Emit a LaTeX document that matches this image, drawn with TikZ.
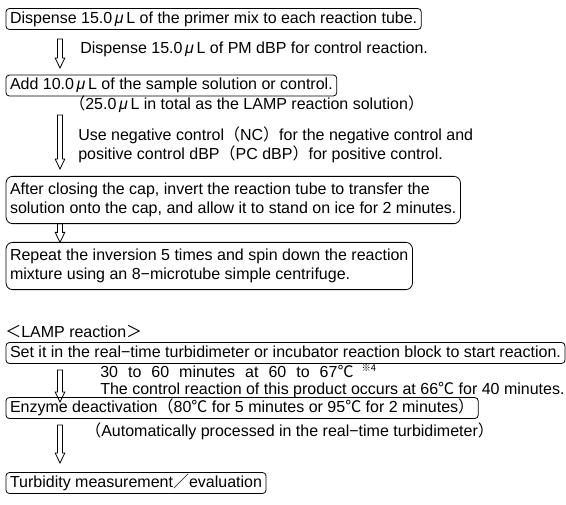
\documentclass[tikz,border=0pt]{standalone}
\usepackage{fontspec}
\setmainfont{Liberation Sans}
\newfontfamily\cjk{Noto Sans CJK JP}
\usepackage{tikz}
\usetikzlibrary{calc}

\newcommand{\muL}{\,\textit{μ}\,L}
\newcommand{\lpar}{{\cjk （}}
\newcommand{\rpar}{{\cjk ）}}
\newcommand{\degc}{{\cjk ℃}}
\newcommand{\dash}{−}

\tikzset{
  stepbox/.style={draw, line width=0.6pt, rounded corners=2.5pt, anchor=west, outer sep=0pt,
    inner xsep=3pt, inner ysep=2pt, text height=9pt, text depth=2.7pt,
    font=\fontsize{12}{14.25}\selectfont},
  twobox/.style={draw, line width=0.6pt, rounded corners=5pt, anchor=west, outer sep=0pt,
    inner xsep=3pt, inner ysep=5pt, align=left,
    font=\fontsize{12}{14.25}\selectfont},
  note/.style={anchor=west, inner sep=0pt, align=left, font=\fontsize{12}{14.25}\selectfont},
  hollow/.style={draw, line width=0.6pt,
    to path={($(\tikztostart)+(-2.5,0)$) -- ($(\tikztotarget)+(-2.5,-10)$)
      -- ($(\tikztotarget)+(-4.8,-10)$) -- (\tikztotarget) -- ($(\tikztotarget)+(4.8,-10)$)
      -- ($(\tikztotarget)+(2.5,-10)$) -- ($(\tikztostart)+(2.5,0)$) -- cycle}}
}

\begin{document}
\begin{tikzpicture}[x=0.75pt,y=0.75pt,yscale=-1,xscale=1]
\useasboundingbox (0,0) rectangle (566,504);

%Shape: Rounded Rect [id:box1]
\node[stepbox] (dispense) at (6,19) {Dispense 15.0\muL\ of the primer mix to each reaction tube.};
% Text Node
\node[note] (pmnote) at (80,49) {Dispense 15.0\muL\ of PM dBP for control reaction.};
%Shape: Rounded Rect [id:box2]
\node[stepbox] (addsample) at (6,85.5) {Add 10.0\muL\ of the sample solution or control.};
% Text Node
\node[note] (totalnote) at (69,104) {\lpar 25.0\muL\ in total as the LAMP reaction solution\rpar};
% Text Node
\node[note] (ctrlnote) at (78,144.5) {Use negative control\lpar NC\rpar for the negative control and\\
  positive control dBP\lpar PC dBP\rpar for positive control.};
%Shape: Rounded Rect [id:box3]
\node[twobox] (invert) at (6,200) {After closing the cap, invert the reaction tube to transfer the\\
  solution onto the cap, and allow it to stand on ice for 2 minutes.};
%Shape: Rounded Rect [id:box4]
\node[twobox] (spin) at (6,266) {Repeat the inversion 5 times and spin down the reaction\\
  mixture using an 8\dash microtube simple centrifuge.};

% Text Node
\node[note] (lamp) at (5,331) {{\cjk ＜}LAMP reaction{\cjk ＞}};
%Shape: Rounded Rect [id:box5]
\node[stepbox] (setblock) at (6,353) {Set it in the real\dash time turbidimeter or incubator reaction block to start reaction.};
% Text Node
\node[note] (timenote) at (100,371) {{\spaceskip=7.5pt 30 to 60 minutes at 60 to 67\degc}\hspace{6pt}\raisebox{5pt}{\fontsize{7}{8}\selectfont\cjk ※4}};
% Text Node
\node[note] (ctrlreact) at (100,390) {The control reaction of this product occurs at 66\degc\ for 40 minutes.};
%Shape: Rounded Rect [id:box6]
\node[stepbox] (deact) at (6,408) {Enzyme deactivation\lpar 80\degc\ for 5 minutes or 95\degc\ for 2 minutes\rpar};
% Text Node
\node[note] (autonote) at (85,431) {\lpar Automatically processed in the real\dash time turbidimeter\rpar};
%Shape: Rounded Rect [id:box7]
\node[stepbox] (measure) at (6,483) {Turbidity measurement{\cjk ／}evaluation};

%Hollow Arrows
\coordinate (ax) at (60,0);
\coordinate (a1t) at (60,39);
\coordinate (a1b) at (60,68);
\coordinate (a2t) at (60,115);
\coordinate (a2b) at (60,169);
\coordinate (a3t) at (invert.south -| ax);
\coordinate (a3b) at (spin.north -| ax);
\coordinate (a4t) at (60,370);
\coordinate (a4b) at (60,402);
\coordinate (a5t) at (60,425);
\coordinate (a5b) at (60,463);
\draw[hollow] (a1t) to (a1b);
\draw[hollow] (a2t) to (a2b);
\draw[hollow] (a3t) to (a3b);
\draw[hollow] (a4t) to (a4b);
\draw[hollow] (a5t) to (a5b);
\end{tikzpicture}
\end{document}
